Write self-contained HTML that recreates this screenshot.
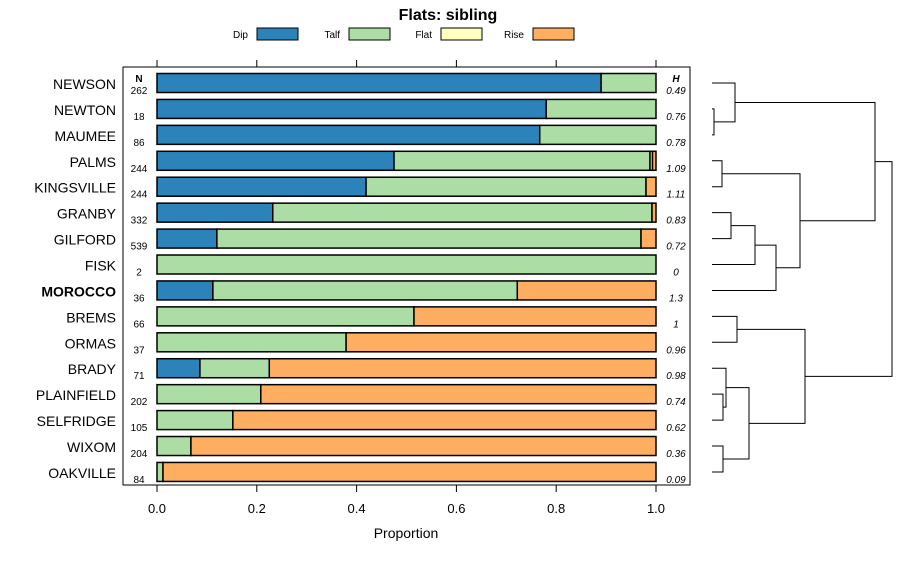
<!DOCTYPE html>
<html><head><meta charset="utf-8"><style>
body{margin:0;background:#fff}
svg text{font-family:"Liberation Sans",sans-serif}
</style></head><body>
<svg id="c" width="900" height="560" xmlns="http://www.w3.org/2000/svg">
<text x="448" y="20" text-anchor="middle" font-size="16" font-weight="bold">Flats: sibling</text>
<g id="legend"></g>
<rect x="123" y="67" width="567" height="418" fill="none" stroke="#000" stroke-width="1"/>
<g id="bars"></g><g id="axis"></g><g id="dend"></g>
<text x="406" y="538" text-anchor="middle" font-size="14">Proportion</text>
<text x="139" y="82" text-anchor="middle" font-size="10" font-weight="bold">N</text>
<text x="676" y="82" text-anchor="middle" font-size="10" font-weight="bold" font-style="italic">H</text>
</svg>
<script>
const categories=["NEWSON","NEWTON","MAUMEE","PALMS","KINGSVILLE","GRANBY","GILFORD","FISK","MOROCCO","BREMS","ORMAS","BRADY","PLAINFIELD","SELFRIDGE","WIXOM","OAKVILLE"];
const dip=[0.89,0.78,0.767,0.475,0.419,0.232,0.12,0,0.112,0,0,0.086,0,0,0,0];
const talf=[0.11,0.22,0.233,0.513,0.561,0.76,0.85,1,0.61,0.515,0.379,0.139,0.208,0.152,0.068,0.012];
const flat=[0,0,0,0.005,0,0,0,0,0,0,0,0,0,0,0,0];
const rise=[0,0,0,0.007,0.02,0.008,0.03,0,0.278,0.485,0.621,0.775,0.792,0.848,0.932,0.988];
const nVals=["262","18","86","244","244","332","539","2","36","66","37","71","202","105","204","84"];
const hVals=["0.49","0.76","0.78","1.09","1.11","0.83","0.72","0","1.3","1","0.96","0.98","0.74","0.62","0.36","0.09"];
const ticks=[0,0.2,0.4,0.6,0.8,1];
const seriesNames=["Dip","Talf","Flat","Rise"];
const colors=["#2b83ba","#abdda4","#ffffbf","#fdae61"];
// dendrogram merges: [left, right, height]; leaves are row indices, clusters are "c"+k
const merges=[[1,2,0.02],["c0",0,0.23],[3,4,0.1],[5,6,0.19],["c3",7,0.43],["c4",8,0.64],["c2","c5",0.88],["c1","c6",1.63],[9,10,0.25],[12,13,0.11],[11,"c9",0.14],[14,15,0.11],["c10","c11",0.37],["c8","c12",0.93],["c7","c13",1.8]];
const NS="http://www.w3.org/2000/svg";
const x=v=>157+v*499, y=i=>83+i*25.93;
const dx=h=>712+h*100;
function mk(t,a,p){const e=document.createElementNS(NS,t);for(const k in a)e.setAttribute(k,a[k]);p.appendChild(e);return e;}
const svg=document.getElementById('c');
const bars=document.getElementById('bars');
const series=[dip,talf,flat,rise];
categories.forEach((c,i)=>{
  const l=mk('text',{x:116,y:y(i)+6,'text-anchor':'end','font-size':14,'font-weight':c==="MOROCCO"?'bold':'normal'},svg);l.textContent=c;
  
  
  let acc=0;
  series.forEach((s,k)=>{
    if(s[i]>0){const r=mk('rect',{x:x(acc),y:y(i)-9.5,width:s[i]*499,height:19,fill:colors[k],stroke:'#000','stroke-width':1.5},bars);
    
    }
    acc+=s[i];
  });
  const n=mk('text',{x:139,y:y(i)+11,'text-anchor':'middle','font-size':10},svg);n.textContent=nVals[i];
  
  
  const h=mk('text',{x:676,y:y(i)+11,'text-anchor':'middle','font-size':10,'font-style':'italic'},svg);h.textContent=hVals[i];
  
  
});
const ax=document.getElementById('axis');
ticks.forEach(t=>{
  mk('line',{x1:x(t),x2:x(t),y1:485,y2:492,stroke:'#000'},ax);
  mk('line',{x1:x(t),x2:x(t),y1:60,y2:67,stroke:'#000'},ax);
  const tx=mk('text',{x:x(t),y:513,'text-anchor':'middle','font-size':13},ax);tx.textContent=t.toFixed(1);
  
  
});
const lg=document.getElementById('legend');
const lx=[248,340,432,524];
seriesNames.forEach((s,k)=>{
  const t=mk('text',{x:lx[k],y:38,'text-anchor':'end','font-size':10},lg);t.textContent=s;
  
  
  const r=mk('rect',{x:lx[k]+9,y:28,width:41,height:12,fill:colors[k],stroke:'#000'},lg);
  
  
});
const dg=document.getElementById('dend');
const pos={};
function get(n){return typeof n==="number"?{y:y(n),h:0}:pos[n];}
merges.forEach((m,k)=>{
  const a=get(m[0]),b=get(m[1]),hx=dx(m[2]);
  const p=mk('path',{d:`M${dx(a.h)},${a.y}H${hx}V${b.y}H${dx(b.h)}`,fill:'none',stroke:'#000','stroke-width':1},dg);
  
  
  pos["c"+k]={y:(a.y+b.y)/2,h:m[2]};
});
</script>
</body></html>
